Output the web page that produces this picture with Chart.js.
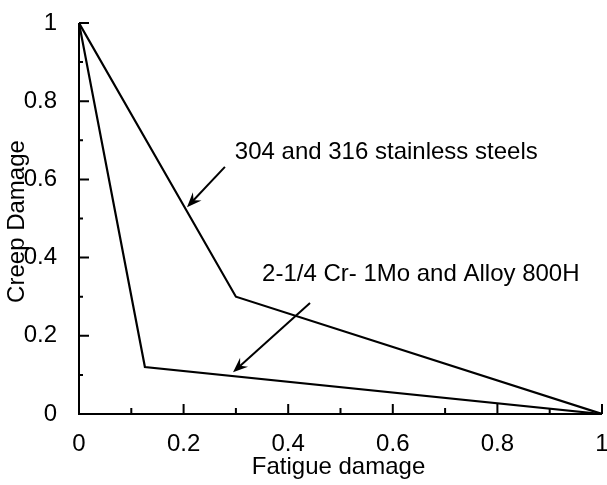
<!DOCTYPE html>
<html><head><meta charset="utf-8">
<script src="https://cdn.jsdelivr.net/npm/chart.js@4.4.1/dist/chart.umd.min.js"></script>
<style>html,body{margin:0;padding:0;background:#fff}#wrap{width:607px;height:485px}</style>
</head><body><div id="wrap"><canvas id="c" width="607" height="485"></canvas></div>
<script>
const xTickLabels = ["0","0.2","0.4","0.6","0.8","1"];
const yTickLabels = ["0","0.2","0.4","0.6","0.8","1"];
const fatigueSS = [0, 0.30, 1.0];
const creepSS   = [1.0, 0.30, 0];
const fatigueCr = [0, 0.126, 1.0];
const creepCr   = [1.0, 0.12, 0];
const labelSS = "304 and 316 stainless steels";
const labelCr = "2-1/4 Cr- 1Mo and Alloy 800H";
// annotation anchors in data units: [textX, textY, arrowTailX, arrowTailY, arrowHeadX, arrowHeadY]
const annSS = [0.298, 0.668, 0.279, 0.632, 0.2065, 0.529];
const annCr = [0.35, 0.358, 0.4417, 0.284, 0.2945, 0.107];
const xTitle = "Fatigue damage";
const yTitle = "Creep Damage";

const FONT = "'Liberation Sans', Arial, sans-serif";
const pts = (xs, ys) => xs.map((x, i) => ({x, y: ys[i]}));

const customPlugin = {
  id: 'custom',
  afterDraw(chart) {
    const ctx = chart.ctx, xs = chart.scales.x, ys = chart.scales.y;
    const X = v => xs.getPixelForValue(v), Y = v => ys.getPixelForValue(v);
    ctx.save();
    ctx.strokeStyle = '#000'; ctx.lineWidth = 2; ctx.lineCap = 'butt';
    // axes lines
    ctx.beginPath();
    ctx.moveTo(X(0), Y(1)); ctx.lineTo(X(0), Y(0)); ctx.lineTo(X(1), Y(0));
    ctx.stroke();
    // inward ticks
    for (let i = 0; i <= 10; i++) {
      const v = i / 10, major = i % 2 === 0;
      const lx = major ? 10 : 4, ly = major ? 10 : 6;
      ctx.beginPath();
      ctx.moveTo(X(0), Y(v)); ctx.lineTo(X(0) + lx, Y(v));
      ctx.moveTo(X(v), Y(0)); ctx.lineTo(X(v), Y(0) - ly);
      ctx.stroke();
    }
    // annotations
    ctx.fillStyle = '#000';
    ctx.textBaseline = 'middle'; ctx.textAlign = 'left';
    ctx.font = "24px " + FONT;
    [[annSS, labelSS], [annCr, labelCr]].forEach(([a, t]) => {
      ctx.fillText(t, X(a[0]), Y(a[1]));
      const x1 = X(a[2]), y1 = Y(a[3]), x2 = X(a[4]), y2 = Y(a[5]);
      const ang = Math.atan2(y2 - y1, x2 - x1);
      const hl = 16, hw = 0.38;
      ctx.beginPath(); ctx.moveTo(x1, y1);
      ctx.lineTo(x2 - Math.cos(ang) * 6, y2 - Math.sin(ang) * 6); ctx.stroke();
      ctx.beginPath();
      ctx.moveTo(x2, y2);
      ctx.lineTo(x2 - hl * Math.cos(ang - hw), y2 - hl * Math.sin(ang - hw));
      ctx.lineTo(x2 - hl * 0.6 * Math.cos(ang), y2 - hl * 0.6 * Math.sin(ang));
      ctx.lineTo(x2 - hl * Math.cos(ang + hw), y2 - hl * Math.sin(ang + hw));
      ctx.closePath(); ctx.fill();
    });
    // axis titles
    ctx.font = "24px " + FONT;
    ctx.textAlign = 'center';
    ctx.fillText(xTitle, (X(0) + X(1)) / 2 - 2, 467);
    ctx.save();
    ctx.translate(17, (Y(0) + Y(1)) / 2 + 3);
    ctx.rotate(-Math.PI / 2);
    ctx.fillText(yTitle, 0, 0);
    ctx.restore();
    ctx.restore();
  }
};

new Chart(document.getElementById('c'), {
  type: 'scatter',
  data: {
    datasets: [
      {data: pts(fatigueSS, creepSS), showLine: true, borderColor: '#000', borderWidth: 2.2, pointRadius: 0, tension: 0, fill: false},
      {data: pts(fatigueCr, creepCr), showLine: true, borderColor: '#000', borderWidth: 2.2, pointRadius: 0, tension: 0, fill: false}
    ]
  },
  options: {
    responsive: false, animation: false, devicePixelRatio: 1,
    layout: {padding: {top: 23, right: 5, left: 0, bottom: 0}},
    plugins: {legend: {display: false}, tooltip: {enabled: false}},
    scales: {
      x: {
        type: 'linear', min: 0, max: 1,
        afterFit: s => { s.height = 71; s.paddingLeft = 0; s.paddingRight = 0; },
        grid: {display: false, drawTicks: false},
        border: {display: false},
        ticks: {stepSize: 0.2, padding: 16, color: '#000', font: {family: FONT, size: 24},
          maxRotation: 0, autoSkip: false,
          callback: (v, i) => xTickLabels[i]}
      },
      y: {
        type: 'linear', min: 0, max: 1,
        afterFit: s => { s.width = 79; s.paddingTop = 0; s.paddingBottom = 0; },
        grid: {display: false, drawTicks: false},
        border: {display: false},
        ticks: {stepSize: 0.2, padding: 22, color: '#000', font: {family: FONT, size: 24},
          autoSkip: false,
          callback: (v, i) => yTickLabels[i]}
      }
    }
  },
  plugins: [customPlugin]
});
</script></body></html>
